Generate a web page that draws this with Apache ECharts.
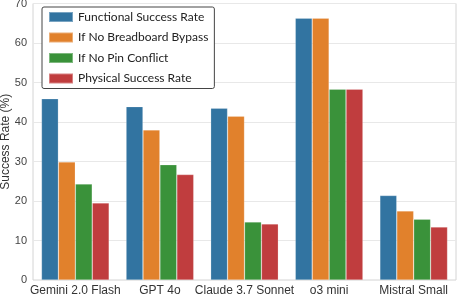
<!DOCTYPE html>
<html><head><meta charset="utf-8">
<script src="https://cdn.jsdelivr.net/npm/echarts@6/dist/echarts.min.js"></script>
<style>html,body{margin:0;padding:0;background:#fff}#c{width:457px;height:296px}</style>
</head><body><div id="c"></div>
<script>
const categories = ["Gemini 2.0 Flash", "GPT 4o", "Claude 3.7 Sonnet", "o3 mini", "Mistral Small"];
const seriesNames = ["Functional Success Rate", "If No Breadboard Bypass", "If No Pin Conflict", "Physical Success Rate"];
const functional = [45.9, 43.9, 43.5, 66.3, 21.4];
const noBypass = [29.9, 38.0, 41.5, 66.3, 17.5];
const noPin = [24.3, 29.2, 14.7, 48.3, 15.4];
const physical = [19.5, 26.7, 14.2, 48.3, 13.4];
const colors = ["#3274A1", "#E1812C", "#3A923A", "#C03D3E"];
const yTicks = [0, 10, 20, 30, 40, 50, 60, 70];

const data = [functional, noBypass, noPin, physical];
const chart = echarts.init(document.getElementById('c'), null, {renderer: 'canvas'});
chart.setOption({
  animation: false,
  grid: {left: 33, right: 1, top: 3.5, bottom: 16, show: true, borderColor: '#d4d4d4', borderWidth: 1,
         containLabel: false, outerBoundsMode: 'none'},
  legend: {
    orient: 'vertical', left: 42, top: 7,
    data: seriesNames,
    itemWidth: 24, itemHeight: 10, itemGap: 8.5,
    padding: [4, 6, 4, 6],
    backgroundColor: '#fff', borderColor: '#444', borderWidth: 1, borderRadius: 2,
    icon: 'rect',
    textStyle: {fontFamily: 'Lato', fontSize: 12, color: '#222'}
  },
  xAxis: {
    type: 'category', data: categories,
    axisLine: {show: false}, axisTick: {show: false},
    axisLabel: {fontFamily: 'Liberation Sans', fontSize: 12, color: '#333', margin: 5, interval: 0}
  },
  yAxis: {
    type: 'value', min: yTicks[0], max: yTicks[yTicks.length - 1], interval: 10,
    name: 'Success Rate (%)', nameLocation: 'middle', nameGap: 21, nameMoveOverlap: false,
    nameTextStyle: {fontFamily: 'Liberation Sans', fontSize: 12, color: '#333'},
    axisLine: {show: false}, axisTick: {show: false},
    axisLabel: {fontFamily: 'Liberation Sans', fontSize: 11, color: '#444', margin: 6},
    splitLine: {lineStyle: {color: '#e8e8e8', width: 1}}
  },
  series: seriesNames.map((n, i) => ({
    name: n, type: 'bar', data: data[i],
    barGap: '0%', barCategoryGap: '20%',
    itemStyle: {color: colors[i], borderColor: 'rgba(255,255,255,0.35)', borderWidth: 0.6}
  }))
});
</script></body></html>
